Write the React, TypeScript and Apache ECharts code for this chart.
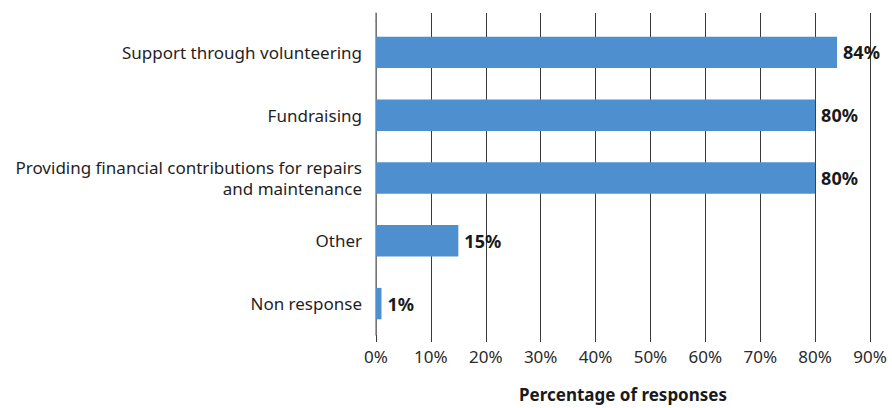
import React, { useEffect, useRef } from "react";
import * as echarts from "echarts";

const categories = [
  "Support through volunteering",
  "Fundraising",
  "Providing financial contributions for repairs\nand maintenance",
  "Other",
  "Non response",
];
const values = [84, 80, 80, 15, 1];
const xTicks = [0, 10, 20, 30, 40, 50, 60, 70, 80, 90];

const FONT = "'Noto Sans', 'Open Sans', sans-serif";
const GRID_COLOR = "#3a3a3a";
const AXIS_COLOR = "#8a8a8a";
const BAR_COLOR = "#4E8FCF";

export default function App() {
  const ref = useRef<HTMLDivElement>(null);
  useEffect(() => {
    if (!ref.current) return;
    const chart = echarts.init(ref.current, null, { renderer: "svg" });
    const xMin = xTicks[0];
    const xMax = xTicks[xTicks.length - 1];
    const interval = xTicks[1] - xTicks[0];
    chart.setOption({
      animation: false,
      textStyle: { fontFamily: FONT },
      grid: [
        { left: 376, width: 494, top: 21, height: 317, containLabel: false },
        { left: 376, width: 494, top: 13, height: 8, containLabel: false },
      ],
      xAxis: [
        {
          type: "value",
          gridIndex: 0,
          min: xMin,
          max: xMax,
          interval,
          axisLine: { show: false },
          axisTick: { show: true, length: 7, lineStyle: { color: GRID_COLOR } },
          splitLine: { show: true, lineStyle: { color: GRID_COLOR, width: 1 } },
          axisLabel: {
            formatter: "{value}%",
            fontSize: 17,
            color: "#2a2a2a",
            margin: 13,
            fontFamily: FONT,
          },
          name: "Percentage of responses",
          nameLocation: "middle",
          nameGap: 51,
          nameTextStyle: {
            fontSize: 17,
            fontWeight: "bold",
            color: "#1a1a1a",
            fontFamily: FONT,
          },
        },
        {
          type: "value",
          gridIndex: 1,
          min: xMin,
          max: xMax,
          interval,
          axisLine: { show: false },
          axisTick: { show: false },
          axisLabel: { show: false },
          splitLine: { show: true, lineStyle: { color: GRID_COLOR, width: 1 } },
        },
      ],
      yAxis: [
        {
          type: "category",
          gridIndex: 0,
          data: categories,
          inverse: true,
          axisLine: { show: true, lineStyle: { color: AXIS_COLOR, width: 1.5 } },
          axisTick: { show: false },
          axisLabel: {
            fontSize: 17,
            color: "#1f1f1f",
            margin: 14,
            lineHeight: 21,
            align: "right",
            fontFamily: FONT,
          },
        },
        {
          type: "category",
          gridIndex: 1,
          data: [""],
          axisLine: { show: true, lineStyle: { color: AXIS_COLOR, width: 1.5 } },
          axisTick: { show: false },
          axisLabel: { show: false },
        },
      ],
      series: [
        {
          type: "bar",
          xAxisIndex: 0,
          yAxisIndex: 0,
          data: values,
          barWidth: "50%",
          itemStyle: { color: BAR_COLOR },
          label: {
            show: true,
            position: "right",
            distance: 6,
            formatter: "{c}%",
            fontSize: 18,
            fontWeight: "bold",
            color: "#1a1a1a",
            fontFamily: FONT,
          },
        },
        {
          type: "bar",
          xAxisIndex: 1,
          yAxisIndex: 1,
          data: [],
        },
      ],
    });
    return () => chart.dispose();
  }, []);
  return (
    <div
      ref={ref}
      style={{ position: "fixed", left: 0, top: 0, width: 892, height: 408, background: "#fff" }}
    />
  );
}
